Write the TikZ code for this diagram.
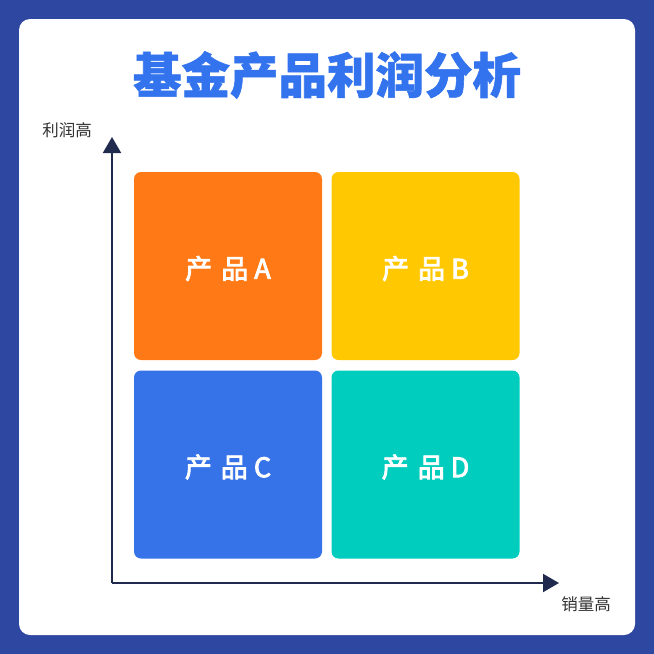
\documentclass[tikz,border=0pt]{standalone}
\usepackage{fontspec}
\newfontfamily\cjk{Noto Sans CJK SC}
\newfontfamily\cjkmid[FakeBold=3]{Noto Sans CJK SC}
\newfontfamily\cjkheavy[BoldFeatures={FakeBold=1.2}]{Noto Sans CJK SC}
\usetikzlibrary{arrows.meta}
\definecolor{bgblue}{HTML}{2E47A0}
\definecolor{titleblue}{HTML}{3374EE}
\definecolor{axisnavy}{HTML}{1F2A4E}
\definecolor{boxorange}{HTML}{FF7A17}
\definecolor{boxyellow}{HTML}{FFC800}
\definecolor{boxblue}{HTML}{3673E8}
\definecolor{boxteal}{HTML}{00CDBD}
\tikzset{
  quad/.style={rounded corners=7pt,minimum width=188pt,minimum height=188pt,inner sep=0pt},
  qlabel/.style={text=white,font=\cjkmid\fontsize{27}{30}\selectfont},
  axislabel/.style={text=black!80,font=\cjk\fontsize{16.5}{19}\selectfont},
  axis/.style={axisnavy,line width=2pt,-{Triangle[length=16pt,width=18pt]}}
}
\begin{document}
\begin{tikzpicture}[x=1pt,y=-1pt]
  % 背景
  \useasboundingbox (0,0) rectangle (654,654);
  \fill[bgblue] (0,0) rectangle (654,654);
  \fill[white,rounded corners=11pt] (19,19) rectangle (635,635);
  % 标题
  \node[text=titleblue,font=\cjkheavy\bfseries\fontsize{48.5}{54}\selectfont] (title) at (327,75) {基金产品利润分析};
  % 四个象限
  \node[quad,fill=boxorange] (pa) at (228,266) {};
  \node[quad,fill=boxyellow] (pb) at (425.5,266) {};
  \node[quad,fill=boxblue] (pc) at (228,464.5) {};
  \node[quad,fill=boxteal] (pd) at (425.5,464.5) {};
  \node[qlabel] (la) at ([yshift=-2.5pt]pa.center) {产\,\,品 A};
  \node[qlabel] (lb) at ([yshift=-2.5pt]pb.center) {产\,\,品 B};
  \node[qlabel] (lc) at ([yshift=-2.5pt]pc.center) {产\,\,品 C};
  \node[qlabel] (ld) at ([yshift=-2.5pt]pd.center) {产\,\,品 D};
  % 坐标轴
  \coordinate (o) at (112,583);
  \coordinate (ytop) at (112,137);
  \coordinate (xend) at (559,583);
  \draw[axis] (o) -- (ytop);
  \draw[axis] (o) -- (xend);
  % 标注
  \node[axislabel] (ylab) at (67,130) {利润高};
  \node[axislabel] (xlab) at (586,604) {销量高};
\end{tikzpicture}
\end{document}
